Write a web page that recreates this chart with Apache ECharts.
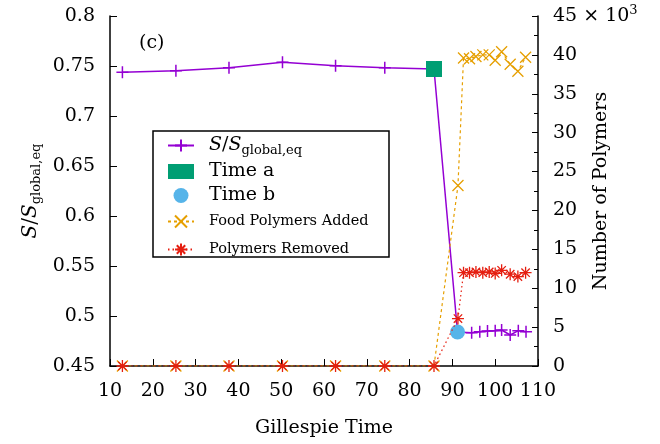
<!DOCTYPE html>
<html>
<head>
<meta charset="utf-8">
<script src="https://cdn.jsdelivr.net/npm/echarts@6/dist/echarts.min.js"></script>
<style>
  html, body { margin: 0; padding: 0; background: #fff; }
  #chart { width: 660px; height: 444px; }
</style>
</head>
<body>
<div id="chart"></div>
<script>
// Order parameter S/S_global,eq sampled over Gillespie time
const sTime = [12.9, 25.4, 37.8, 50.3, 62.7, 74.2, 85.7, 91.2, 94.5, 96.4, 98.2, 100.0, 101.5, 103.5, 105.4, 107.2];
const sRatio = [0.7437, 0.7453, 0.7483, 0.7537, 0.7503, 0.7483, 0.747, 0.484, 0.4833, 0.4843, 0.485, 0.4853, 0.486, 0.481, 0.4853, 0.4843];

// Marked instants
const timeA = [85.7, 0.747];
const timeB = [91.2, 0.484];

// Polymer counts (right axis)
const polyTime = [12.9, 25.4, 37.8, 50.3, 62.7, 74.2, 85.7, 91.3, 92.6, 94.0, 95.5, 97.1, 98.6, 100.0, 101.5, 103.5, 105.3, 107.1];
const foodAdded = [0, 0, 0, 0, 0, 0, 0, 23200, 39600, 39500, 39800, 40000, 40000, 39300, 40400, 38800, 37900, 39700];
const removed = [0, 0, 0, 0, 0, 0, 0, 6100, 12000, 12000, 12100, 12000, 12100, 11900, 12300, 11800, 11500, 12000];

const FONT = 'DejaVu Serif';
const PURPLE = '#9400d3', GREEN = '#009e73', BLUE = '#56b4e9', ORANGE = '#e69f00', RED = '#e51e10';

const plusPath = 'path://M5,0L5,10M0,5L10,5';
const crossPath = 'path://M0,0L10,10M10,0L0,10';
const starPath = 'path://M5,0L5,10M0,5L10,5M1.5,1.5L8.5,8.5M8.5,1.5L1.5,8.5';

const zip = (xs, ys) => xs.map((x, i) => [x, ys[i]]);

const chart = echarts.init(document.getElementById('chart'), null, { renderer: 'canvas' });

const legendNames = {
  'S': '{it0|S}{n|/}{it|S}{sub|global,eq}',
  'Time a': '{big|Time a}',
  'Time b': '{big|Time b}',
  'Food Polymers Added': '{small|Food Polymers Added}',
  'Polymers Removed': '{small|Polymers Removed}'
};

chart.setOption({
  animation: false,
  backgroundColor: '#fff',
  textStyle: { fontFamily: FONT, color: '#000' },
  grid: { left: 110, right: 122, top: 16, bottom: 78, containLabel: false, outerBoundsMode: 'none' },
  xAxis: {
    type: 'value', min: 10, max: 110, interval: 10,
    name: 'Gillespie Time', nameLocation: 'middle', nameGap: 53, nameMoveOverlap: false,
    nameTextStyle: { fontFamily: FONT, fontSize: 19, color: '#000' },
    axisLine: { show: true, lineStyle: { color: '#000', width: 1.5 } },
    axisTick: { show: true, inside: true, length: 7, lineStyle: { color: '#000', width: 1 } },
    axisLabel: { fontFamily: FONT, fontSize: 19, color: '#000', margin: 16 },
    splitLine: { show: false }
  },
  yAxis: [
    {
      type: 'value', min: 0.45, max: 0.8, interval: 0.05, position: 'left',
      name: '{it|S}{n|/}{it|S}{sub|global,eq}', nameLocation: 'middle', nameGap: 66, nameRotate: 90,
      nameMoveOverlap: false,
      nameTextStyle: {
        fontFamily: FONT, fontSize: 19, color: '#000',
        rich: {
          it: { fontFamily: FONT, fontStyle: 'italic', fontSize: 20, color: '#000', lineHeight: 26 },
          n: { fontFamily: FONT, fontSize: 20, color: '#000', lineHeight: 26 },
          sub: { fontFamily: FONT, fontSize: 13, color: '#000', lineHeight: 26, padding: [12, 0, 0, 0] }
        }
      },
      axisLine: { show: true, lineStyle: { color: '#000', width: 1.5 } },
      axisTick: { show: true, inside: true, length: 7, lineStyle: { color: '#000', width: 1 } },
      axisLabel: { fontFamily: FONT, fontSize: 19, color: '#000', margin: 15,
        formatter: v => String(+v.toFixed(2)) },
      splitLine: { show: false }
    },
    {
      type: 'value', min: 0, max: 45000, interval: 5000, position: 'right',
      name: 'Number of Polymers', nameLocation: 'middle', nameGap: 54, nameRotate: 90,
      nameMoveOverlap: false,
      nameTextStyle: { fontFamily: FONT, fontSize: 19, color: '#000' },
      axisLine: { show: true, lineStyle: { color: '#000', width: 1.5 } },
      axisTick: { show: true, inside: true, length: 6, lineStyle: { color: '#000', width: 1 } },
      minorTick: { show: true, splitNumber: 2, length: 4, lineStyle: { color: '#000', width: 1 } },
      axisLabel: {
        fontFamily: FONT, fontSize: 19, color: '#000', margin: 15,
        formatter: v => v === 45000 ? '45 × 10{sup|3}' : String(v / 1000),
        rich: { sup: { fontFamily: FONT, fontSize: 13, color: '#000', padding: [0, 0, 10, 0] } }
      },
      splitLine: { show: false }
    }
  ],
  legend: {
    orient: 'vertical', left: 153, top: 132,
    padding: [2, 14, 4, 14], itemGap: 5, itemWidth: 26, itemHeight: 15,
    data: ['S', 'Time a', 'Time b', 'Food Polymers Added', 'Polymers Removed'],
    selectedMode: false,
    formatter: name => legendNames[name],
    textStyle: {
      fontFamily: FONT, color: '#000',
      rich: {
        it0: { fontFamily: FONT, fontStyle: 'italic', fontSize: 19, color: '#000', lineHeight: 24, padding: [0, 0, 0, 10] },
        it: { fontFamily: FONT, fontStyle: 'italic', fontSize: 19, color: '#000', lineHeight: 24 },
        n: { fontFamily: FONT, fontSize: 19, color: '#000', lineHeight: 24 },
        sub: { fontFamily: FONT, fontSize: 13, color: '#000', lineHeight: 24, padding: [10, 0, 0, 0] },
        big: { fontFamily: FONT, fontSize: 19, color: '#000', lineHeight: 24, padding: [0, 0, 0, 10] },
        small: { fontFamily: FONT, fontSize: 14.5, color: '#000', lineHeight: 26, padding: [4, 0, 4, 10] }
      }
    }
  },
  graphic: [
    { type: 'rect', shape: { x: 153, y: 131, width: 236, height: 126 },
      style: { fill: 'none', stroke: '#000', lineWidth: 1.5 }, z: 100 },
    { type: 'text', left: 139, top: 34,
      style: { text: '(c)', font: '19px "DejaVu Serif"', fill: '#000' }, z: 100 }
  ],
  series: [
    {
      name: 'S', type: 'line', yAxisIndex: 0, data: zip(sTime, sRatio),
      symbol: plusPath, symbolSize: 12,
      itemStyle: { color: 'rgba(0,0,0,0)', borderColor: PURPLE, borderWidth: 1.5 },
      lineStyle: { color: PURPLE, width: 1.5 },
      z: 2
    },
    {
      name: 'Time a', type: 'scatter', yAxisIndex: 0, data: [timeA],
      symbol: 'rect', symbolSize: 16, itemStyle: { color: GREEN, opacity: 1 }, z: 3
    },
    {
      name: 'Time b', type: 'scatter', yAxisIndex: 0, data: [timeB],
      symbol: 'circle', symbolSize: 15, itemStyle: { color: BLUE, opacity: 1 }, z: 3
    },
    {
      name: 'Food Polymers Added', type: 'line', yAxisIndex: 1, data: zip(polyTime, foodAdded),
      symbol: crossPath, symbolSize: 11,
      itemStyle: { color: 'rgba(0,0,0,0)', borderColor: ORANGE, borderWidth: 1.3 },
      lineStyle: { color: ORANGE, width: 1.2, type: [3, 3] },
      z: 4
    },
    {
      name: 'Polymers Removed', type: 'line', yAxisIndex: 1, data: zip(polyTime, removed),
      symbol: starPath, symbolSize: 12,
      itemStyle: { color: 'rgba(0,0,0,0)', borderColor: RED, borderWidth: 1.3 },
      lineStyle: { color: RED, width: 1.2, type: [1.5, 3] },
      z: 5
    }
  ]
});
</script>
</body>
</html>
